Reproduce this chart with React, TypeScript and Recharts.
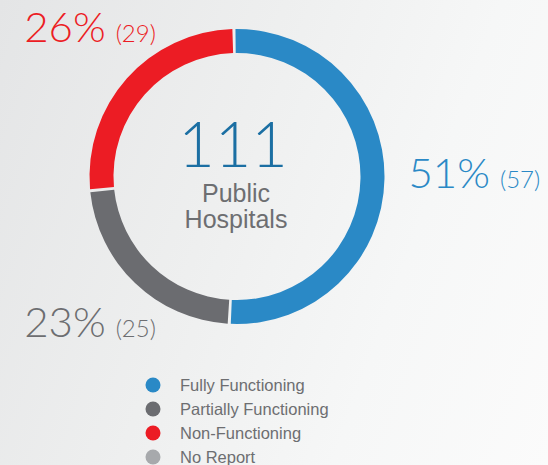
import React from 'react';
import { PieChart, Pie, Cell } from 'recharts';

const categories = ['Fully Functioning', 'Partially Functioning', 'Non-Functioning', 'No Report'];
const hospitalCounts = [57, 25, 29, 0];
const sliceColors = ['#2a89c6', '#6b6c70', '#ec1c24', '#a7a9ac'];
const labelColors = ['#2a89c6', '#6d6e71', '#ec1c24', '#a7a9ac'];
const centerCaption = ['Public', 'Hospitals'];

const data = categories.map((name, i) => ({ name, value: hospitalCounts[i] }));
const total = hospitalCounts.reduce((a, b) => a + b, 0);

const W = 548;
const H = 465;
const CX = 237;
const CY = 176.5;
const OUTER = 147.5;
const INNER = 123.5;

const RAD = Math.PI / 180;

const renderLabel = (props: any) => {
  const { cx, cy, midAngle, outerRadius, percent, value, index } = props;
  if (!value) return null;
  const c = Math.cos(midAngle * RAD);
  const s = -Math.sin(midAngle * RAD);
  let x: number;
  let y: number;
  let anchor: 'start' | 'end';
  if (c > 0) {
    x = cx + outerRadius + 24;
    y = cy + 11;
    anchor = 'start';
  } else {
    x = cx - outerRadius * 0.55;
    y = cy + (s < 0 ? -outerRadius : outerRadius) + 13;
    anchor = 'end';
  }
  const pct = Math.round(percent * 100);
  return (
    <text
      key={`lbl-${index}`}
      x={x}
      y={y}
      textAnchor={anchor}
      fill={labelColors[index]}
      fontFamily="Lato, 'Open Sans', sans-serif"
      fontWeight={300}
    >
      <tspan fontSize={42}>{pct}%</tspan>
      <tspan fontSize={24} dx={10}>({value})</tspan>
    </text>
  );
};

export default function App() {
  return (
    <div
      style={{
        position: 'absolute',
        left: 0,
        top: 0,
        width: W,
        height: H,
        background: 'linear-gradient(110deg, #e4e5e6 0%, #eeefef 40%, #f6f7f7 70%, #fbfbfb 100%)',
        overflow: 'hidden',
      }}
    >
      <PieChart width={W} height={H} margin={{ top: 0, right: 0, bottom: 0, left: 0 }}>
        <Pie
          data={data}
          dataKey="value"
          nameKey="name"
          cx={CX}
          cy={CY}
          innerRadius={INNER}
          outerRadius={OUTER}
          startAngle={90.6}
          endAngle={-269.4}
          paddingAngle={1.2}
          stroke="none"
          labelLine={false}
          label={renderLabel}
          isAnimationActive={false}
        >
          {data.map((d, i) => (
            <Cell key={d.name} fill={sliceColors[i]} />
          ))}
        </Pie>
        <text
          x={CX - 4}
          y={167}
          textAnchor="middle"
          fill="#1b6fa3"
          fontFamily="Lato, sans-serif"
          fontWeight={300}
          fontSize={63}
        >
          {total}
        </text>
        <text
          x={CX - 1}
          y={202}
          textAnchor="middle"
          fill="#6d6e71"
          fontFamily="'Liberation Sans', Arial, sans-serif"
          fontSize={25}
        >
          {centerCaption[0]}
        </text>
        <text
          x={CX - 1}
          y={228}
          textAnchor="middle"
          fill="#6d6e71"
          fontFamily="'Liberation Sans', Arial, sans-serif"
          fontSize={25}
        >
          {centerCaption[1]}
        </text>
        {categories.map((name, i) => (
          <g key={`leg-${name}`}>
            <circle cx={153} cy={385 + i * 24} r={7.5} fill={sliceColors[i]} />
            <text
              x={180}
              y={385 + i * 24 + 6}
              fill="#6d6e71"
              fontFamily="'Liberation Sans', Arial, sans-serif"
              fontSize={16.5}
            >
              {name}
            </text>
          </g>
        ))}
      </PieChart>
    </div>
  );
}
